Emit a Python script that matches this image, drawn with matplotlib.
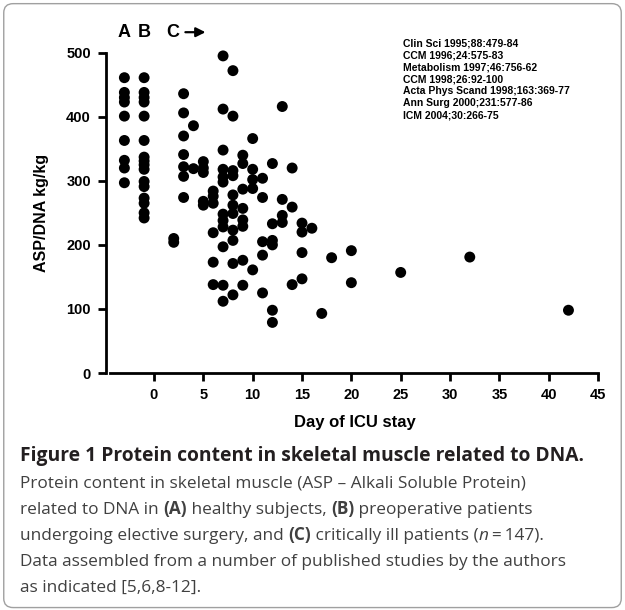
import numpy as np
import matplotlib
matplotlib.use("Agg")
import matplotlib.pyplot as plt
from matplotlib.patches import FancyBboxPatch

plt.rcParams["font.family"] = ["Liberation Sans", "DejaVu Sans"]

# Gruppo A (sani) e B (preoperatori): posizione fissa sull'asse x
giorno_a = -3
asp_a = [461, 438, 430, 423, 401, 363, 332, 320, 297]
giorno_b = -1
asp_b = [461, 438, 430, 423, 401, 363, 337, 331, 325, 318, 299, 291, 273, 265, 250, 242]

# Gruppo C (critici): giorno di degenza e valori
giorni_c = (
    [2] * 2 + [3] * 7 + [4] * 2 + [5] * 5 + [6] * 6 + [7] * 12 + [8] * 11
    + [9] * 8 + [10] * 5 + [11] * 5 + [12] * 6 + [13] * 4 + [14] * 3 + [15] * 4
    + [16, 17, 18, 20, 20, 25, 32, 42]
)
asp_c = [
    210, 204,
    436, 406, 370, 341, 322, 307, 274,
    386, 319,
    330, 320, 313, 268, 262,
    284, 276, 265, 219, 173, 138,
    495, 412, 348, 318, 306, 298, 248, 238, 228, 197, 137, 112,
    472, 401, 316, 308, 278, 262, 249, 223, 207, 171, 122,
    340, 327, 287, 257, 239, 229, 176, 137,
    366, 318, 302, 288, 161,
    304, 274, 205, 184, 125,
    327, 233, 207, 200, 98, 79,
    416, 271, 246, 235,
    320, 259, 138,
    234, 220, 188, 147,
    226, 93, 180, 191, 141, 157, 181, 98,
]

x_ticks = [0, 5, 10, 15, 20, 25, 30, 35, 40, 45]
y_ticks = [0, 100, 200, 300, 400, 500]

riferimenti = [
    "Clin Sci 1995;88:479-84",
    "CCM 1996;24:575-83",
    "Metabolism 1997;46:756-62",
    "CCM 1998;26:92-100",
    "Acta Phys Scand 1998;163:369-77",
    "Ann Surg 2000;231:577-86",
    "ICM 2004;30:266-75",
]

fig = plt.figure(figsize=(6.25, 6.1), dpi=100)

# cornice arrotondata attorno alla figura
cornice = FancyBboxPatch((0.006, 0.004), 0.988, 0.99, boxstyle="round,pad=0,rounding_size=0.015",
                         transform=fig.transFigure, fill=False, edgecolor="#a0a0a0", linewidth=1.0)
fig.add_artist(cornice)

ax = fig.add_axes([0.1698, 0.3885, 0.795, 0.5251])

punti_x = [giorno_a] * len(asp_a) + [giorno_b] * len(asp_b) + giorni_c
punti_y = asp_a + asp_b + asp_c
ax.scatter(punti_x, punti_y, s=62, color="black", edgecolors="none", clip_on=False, zorder=3)

ax.set_xlim(-4.85, 45.5)
ax.set_ylim(0, 500)
ax.set_xticks(x_ticks)
ax.set_yticks(y_ticks)
for s in ["top", "right"]:
    ax.spines[s].set_visible(False)
ax.spines["left"].set_linewidth(2)
ax.spines["bottom"].set_linewidth(2)
ax.spines["bottom"].set_bounds(-4.5, 45)
ax.tick_params(width=2, length=6, labelsize=10.5, pad=5)
for lab in ax.get_xticklabels() + ax.get_yticklabels():
    lab.set_fontweight("bold")

ax.set_xlabel("Day of ICU stay", fontsize=12, fontweight="bold", labelpad=9)
ax.set_ylabel("ASP/DNA kg/kg", fontsize=11.5, fontweight="bold", labelpad=12)

# etichette dei gruppi
ax.text(giorno_a, 532, "A", fontsize=13, fontweight="bold", ha="center", va="center", clip_on=False)
ax.text(giorno_b, 532, "B", fontsize=13, fontweight="bold", ha="center", va="center", clip_on=False)
ax.text(1.9, 532, "C", fontsize=13, fontweight="bold", ha="center", va="center", clip_on=False)
ax.annotate("", xy=(5.5, 532), xytext=(2.9, 532), annotation_clip=False,
            arrowprops=dict(arrowstyle="-|>", color="black", lw=1.6, mutation_scale=14))

ax.text(0.598, 1.045, "\n".join(riferimenti), transform=ax.transAxes, fontsize=7.5,
        fontweight="bold", ha="left", va="top", linespacing=1.25)

# didascalia sotto il grafico
cap = fig.add_axes([0, 0, 1, 1])
cap.set_axis_off()
cap.set_xlim(0, 625)
cap.set_ylim(610, 0)

font_cap = ["Open Sans", "DejaVu Sans"]
cap.text(20, 456, "Figure 1 Protein content in skeletal muscle related to DNA.", fontsize=13.9,
         fontweight="bold", family=font_cap, color="#231f20", va="center")

righe = [
    [("Protein content in skeletal muscle (ASP \u2013 Alkali Soluble Protein)", "normal", "normal")],
    [("related to DNA in ", "normal", "normal"), ("(A)", "bold", "normal"),
     (" healthy subjects, ", "normal", "normal"), ("(B)", "bold", "normal"),
     (" preoperative patients", "normal", "normal")],
    [("undergoing elective surgery, and ", "normal", "normal"), ("(C)", "bold", "normal"),
     (" critically ill patients (", "normal", "normal"), ("n", "normal", "italic"),
     ("\u2009=\u2009147).", "normal", "normal")],
    [("Data assembled from a number of published studies by the authors", "normal", "normal")],
    [("as indicated [5,6,8-12].", "normal", "normal")],
]
y_righe = [484, 510, 536, 562, 588]
for riga, yy in zip(righe, y_righe):
    prec = None
    for testo, peso, stile in riga:
        kw = dict(fontsize=12.45, fontweight=peso, fontstyle=stile, family=font_cap, color="#404040")
        if prec is None:
            prec = cap.annotate(testo, xy=(20, yy), va="center", **kw)
        else:
            prec = cap.annotate(testo, xy=(1, 0), xycoords=prec, va="bottom", **kw)

fig.savefig("out.png", dpi=100)
